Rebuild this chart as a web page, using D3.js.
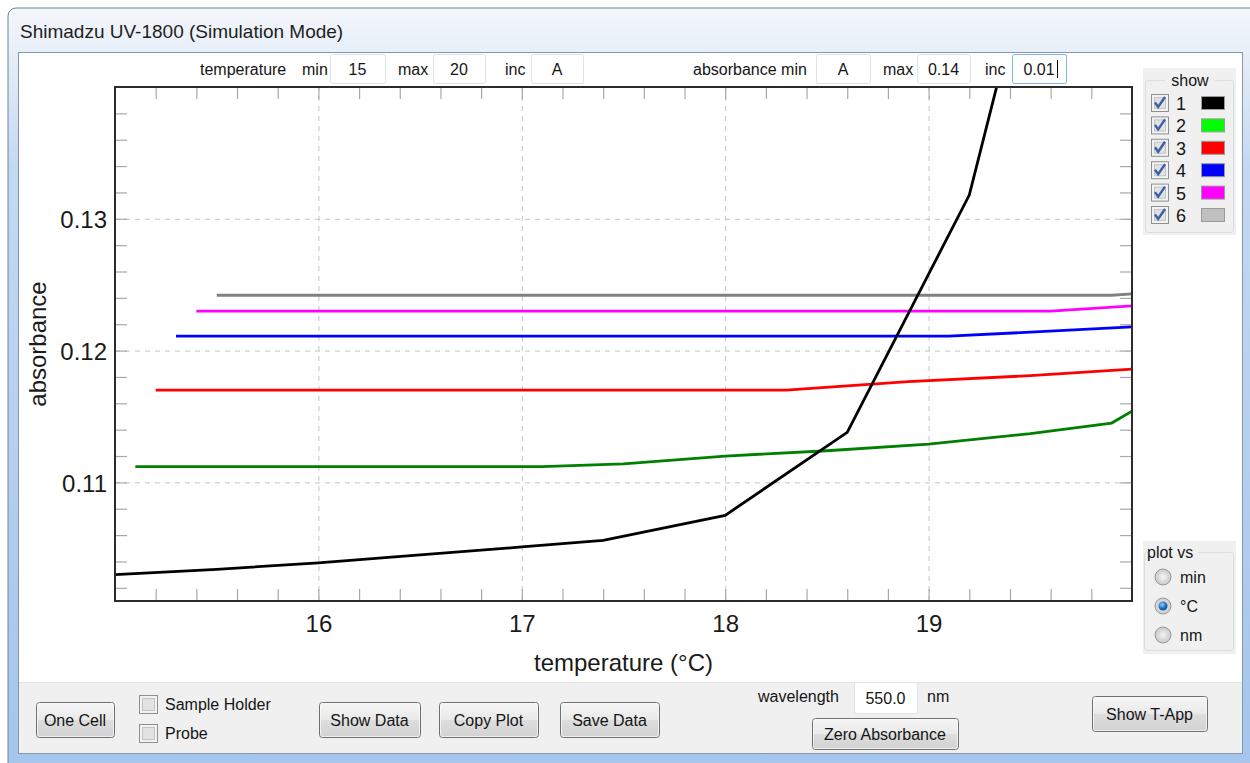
<!DOCTYPE html>
<html>
<head>
<meta charset="utf-8">
<script src="https://cdn.jsdelivr.net/npm/d3@7"></script>
<style>
    body { margin: 0; background: #fff; }
    svg text { font-family: "Liberation Sans", Arial, sans-serif; }
    .ui { font-size: 16px; fill: #151515; }
    .tick-label { font-size: 24px; fill: #1a1a1a; }
</style>
</head>
<body>
<svg id="graphic" width="1250" height="763"></svg>
<script>
// Series: [temperature (°C), absorbance]
const cell1 = [[15.0, 0.1030], [15.5, 0.1034], [16.0, 0.1039], [16.5, 0.1045], [17.0, 0.1051], [17.4, 0.1056], [18.0, 0.1075], [18.6, 0.1138], [19.2, 0.1318], [19.4, 0.1440]];
const cell2 = [[15.1, 0.1112], [17.1, 0.1112], [17.5, 0.1114], [18.0, 0.1120], [18.5, 0.1124], [19.0, 0.1129], [19.5, 0.1137], [19.9, 0.1145], [20.0, 0.1154]];
const cell3 = [[15.2, 0.1170], [18.3, 0.1170], [18.9, 0.11765], [19.5, 0.1181], [20.0, 0.1186]];
const cell4 = [[15.3, 0.1211], [19.1, 0.1211], [19.5, 0.1214], [20.0, 0.1218]];
const cell5 = [[15.4, 0.1230], [19.6, 0.1230], [20.0, 0.1234]];
const cell6 = [[15.5, 0.1242], [19.9, 0.1242], [20.0, 0.1243]];

const cellNames = ['1', '2', '3', '4', '5', '6'];
const lineColours = ['#000000', '#008000', '#ff0000', '#0000ff', '#ff00ff', '#808080'];
const swatchColours = ['#000000', '#00ff00', '#ff0000', '#0000ff', '#ff00ff', '#c0c0c0'];

const xTicks = [16, 17, 18, 19];
const yTicks = [0.11, 0.12, 0.13];
const xDomain = [15, 20];
const yDomain = [0.101, 0.14];

const svg = d3.select('#graphic');
const plot = { left: 115, right: 1132, top: 87, bottom: 601 };

// ---------- window chrome ----------
const defs = svg.append('defs');
const frameGrad = defs.append('linearGradient').attr('id', 'frame').attr('x1', 0).attr('y1', 0).attr('x2', 0).attr('y2', 1);
frameGrad.append('stop').attr('offset', '0%').attr('stop-color', '#f4f7fb');
frameGrad.append('stop').attr('offset', '6%').attr('stop-color', '#e6eef8');
frameGrad.append('stop').attr('offset', '20%').attr('stop-color', '#c4d9f1');
frameGrad.append('stop').attr('offset', '100%').attr('stop-color', '#a3c4ec');

const btnGrad = defs.append('linearGradient').attr('id', 'btn').attr('x1', 0).attr('y1', 0).attr('x2', 0).attr('y2', 1);
btnGrad.append('stop').attr('offset', '0%').attr('stop-color', '#f6f6f6');
btnGrad.append('stop').attr('offset', '50%').attr('stop-color', '#e9e9e9');
btnGrad.append('stop').attr('offset', '51%').attr('stop-color', '#dddddd');
btnGrad.append('stop').attr('offset', '100%').attr('stop-color', '#d2d2d2');

const radioGrad = defs.append('radialGradient').attr('id', 'radio');
radioGrad.append('stop').attr('offset', '0%').attr('stop-color', '#f4f4f4');
radioGrad.append('stop').attr('offset', '100%').attr('stop-color', '#c9c9c9');

const dotGrad = defs.append('radialGradient').attr('id', 'dot').attr('cx', '40%').attr('cy', '35%');
dotGrad.append('stop').attr('offset', '0%').attr('stop-color', '#8fd0ff');
dotGrad.append('stop').attr('offset', '100%').attr('stop-color', '#0b5fb0');

svg.append('rect').attr('x', 8).attr('y', 8).attr('width', 1260).attr('height', 780).attr('rx', 8)
    .attr('fill', 'url(#frame)').attr('stroke', '#6f839d');

svg.append('text').attr('x', 20).attr('y', 38).attr('font-size', 19).attr('fill', '#1e1e1e')
    .text('Shimadzu UV-1800 (Simulation Mode)');

// client area
svg.append('rect').attr('x', 18.5).attr('y', 52.5).attr('width', 1224).attr('height', 701)
    .attr('fill', '#f0f0f0').attr('stroke', '#8596ad');
svg.append('rect').attr('x', 19).attr('y', 53).attr('width', 1223).attr('height', 629).attr('fill', '#ffffff');
svg.append('line').attr('x1', 19).attr('x2', 1242).attr('y1', 682.5).attr('y2', 682.5).attr('stroke', '#e3e3e3');

// ---------- small UI helpers ----------
function label(x, y, txt, anchor) {
    svg.append('text').attr('class', 'ui').attr('x', x).attr('y', y)
        .attr('text-anchor', anchor || 'start').text(txt);
}
function inputBox(x0, x1, y0, y1, txt, focused) {
    svg.append('rect').attr('x', x0 + 0.5).attr('y', y0 + 0.5).attr('width', x1 - x0).attr('height', y1 - y0)
        .attr('rx', 2).attr('fill', '#fff').attr('stroke', focused ? '#7eb4ea' : '#dde3ea');
    label((x0 + x1) / 2, (y0 + y1) / 2 + 6, txt, 'middle');
}
function button(x0, x1, y0, y1, txt) {
    svg.append('rect').attr('x', x0 + 0.5).attr('y', y0 + 0.5).attr('width', x1 - x0).attr('height', y1 - y0)
        .attr('rx', 3).attr('fill', 'url(#btn)').attr('stroke', '#707070');
    svg.append('rect').attr('x', x0 + 1.5).attr('y', y0 + 1.5).attr('width', x1 - x0 - 2).attr('height', y1 - y0 - 2)
        .attr('rx', 2).attr('fill', 'none').attr('stroke', '#fcfcfc').attr('stroke-opacity', 0.7);
    label((x0 + x1) / 2, (y0 + y1) / 2 + 6, txt, 'middle');
}
function checkbox(x, y, size, checked) {
    svg.append('rect').attr('x', x + 0.5).attr('y', y + 0.5).attr('width', size).attr('height', size)
        .attr('fill', '#f2f2f2').attr('stroke', '#8e8f8f');
    svg.append('rect').attr('x', x + 3.5).attr('y', y + 3.5).attr('width', size - 6).attr('height', size - 6)
        .attr('fill', '#e2e2e2').attr('stroke', '#c4c4c4');
    if (checked) {
        svg.append('path')
            .attr('d', `M${x + 4},${y + size * 0.5} L${x + size * 0.42},${y + size - 4} L${x + size - 3},${y + 3}`)
            .attr('fill', 'none').attr('stroke', '#3a5fab').attr('stroke-width', 2.4);
    }
}
function radio(cx, cy, selected) {
    svg.append('circle').attr('cx', cx).attr('cy', cy).attr('r', 8)
        .attr('fill', 'url(#radio)').attr('stroke', '#9a9a9a');
    if (selected) {
        svg.append('circle').attr('cx', cx).attr('cy', cy).attr('r', 4.5).attr('fill', 'url(#dot)');
    }
}

// ---------- top controls ----------
label(200, 75, 'temperature');
label(302, 75, 'min');
inputBox(330, 385, 54, 83, '15');
label(398, 75, 'max');
inputBox(433, 485, 54, 83, '20');
label(505, 75, 'inc');
inputBox(531, 583, 54, 83, 'A');
label(693, 75, 'absorbance min');
inputBox(816, 870, 54, 83, 'A');
label(883, 75, 'max');
inputBox(917, 970, 54, 83, '0.14');
label(985, 75, 'inc');
inputBox(1012, 1066, 54, 83, '0.01', true);
svg.append('line').attr('x1', 1057.5).attr('x2', 1057.5).attr('y1', 60).attr('y2', 78).attr('stroke', '#000');

// ---------- plot ----------
const x = d3.scaleLinear().domain(xDomain).range([plot.left, plot.right]);
const y = d3.scaleLinear().domain(yDomain).range([plot.bottom, plot.top]);
const width = plot.right - plot.left;
const height = plot.bottom - plot.top;

const xMinor = d3.range(1, 25).map((i) => xDomain[0] + i * 0.2);
const yMinor = d3.range(1, 20).map((i) => 0.1 + i * 0.002).filter((v) => v > yDomain[0] && v < yDomain[1]);

// dashed grid
const grid = svg.append('g').attr('class', 'grid');
grid.append('g').attr('transform', `translate(0,${plot.bottom})`)
    .call(d3.axisBottom(x).tickValues(xTicks).tickSize(-height).tickFormat(''));
grid.append('g').attr('transform', `translate(${plot.left},0)`)
    .call(d3.axisLeft(y).tickValues(yTicks).tickSize(-width).tickFormat(''));
grid.selectAll('.domain').remove();
grid.selectAll('line').attr('stroke', '#c4c4c4').attr('stroke-dasharray', '5,5');

// minor ticks on all four sides, pointing inward
const tickLen = 12;
const minor = svg.append('g').attr('class', 'minor');
minor.append('g').attr('transform', `translate(0,${plot.bottom})`)
    .call(d3.axisBottom(x).tickValues(xMinor).tickSizeInner(-tickLen).tickSizeOuter(0).tickFormat(''));
minor.append('g').attr('transform', `translate(0,${plot.top})`)
    .call(d3.axisTop(x).tickValues(xMinor).tickSizeInner(-tickLen).tickSizeOuter(0).tickFormat(''));
minor.append('g').attr('transform', `translate(${plot.left},0)`)
    .call(d3.axisLeft(y).tickValues(yMinor).tickSizeInner(-tickLen).tickSizeOuter(0).tickFormat(''));
minor.append('g').attr('transform', `translate(${plot.right},0)`)
    .call(d3.axisRight(y).tickValues(yMinor).tickSizeInner(-tickLen).tickSizeOuter(0).tickFormat(''));
minor.selectAll('.domain').remove();
minor.selectAll('line').attr('stroke', '#a8a8a8').attr('stroke-width', 1.2);

// tick labels
const xAxis = svg.append('g').attr('transform', `translate(0,${plot.bottom})`)
    .call(d3.axisBottom(x).tickValues(xTicks).tickSize(0).tickPadding(31).tickFormat(d3.format('d')));
const yAxis = svg.append('g').attr('transform', `translate(${plot.left},0)`)
    .call(d3.axisLeft(y).tickValues(yTicks).tickSize(0).tickPadding(8).tickFormat(d3.format('.2f')));
[xAxis, yAxis].forEach((g) => {
    g.select('.domain').remove();
    g.selectAll('text').attr('class', 'tick-label').attr('font-family', null).attr('font-size', null).attr('fill', null);
});
xAxis.selectAll('text').attr('dy', 0);
yAxis.selectAll('text').attr('dy', '0.36em');

// lines
defs.append('clipPath').attr('id', 'plot-clip').append('rect')
    .attr('x', plot.left).attr('y', plot.top).attr('width', width).attr('height', height);

const line = d3.line().x((d) => x(d[0])).y((d) => y(d[1]));
const allCells = [cell1, cell2, cell3, cell4, cell5, cell6];
svg.append('g').attr('clip-path', 'url(#plot-clip)')
    .selectAll('path')
    .data(allCells.map((d, i) => ({ values: d, colour: lineColours[i] })).reverse())
    .join('path')
    .attr('d', (d) => line(d.values))
    .attr('fill', 'none')
    .attr('stroke', (d) => d.colour)
    .attr('stroke-width', 2.8);

// frame
svg.append('rect').attr('x', plot.left).attr('y', plot.top).attr('width', width).attr('height', height)
    .attr('fill', 'none').attr('stroke', '#2b2b2b').attr('stroke-width', 2);

// axis titles
svg.append('text').attr('class', 'tick-label').attr('x', (plot.left + plot.right) / 2).attr('y', 671)
    .attr('text-anchor', 'middle').text('temperature (°C)');
svg.append('text').attr('class', 'tick-label')
    .attr('transform', `translate(46,${(plot.top + plot.bottom) / 2}) rotate(-90)`)
    .attr('text-anchor', 'middle').text('absorbance');

// ---------- "show" legend ----------
svg.append('rect').attr('x', 1143).attr('y', 68).attr('width', 93).attr('height', 167).attr('fill', '#f0f0f0');
svg.append('rect').attr('x', 1145.5).attr('y', 80.5).attr('width', 88).attr('height', 152).attr('rx', 3)
    .attr('fill', 'none').attr('stroke', '#d5dfe5');
svg.append('rect').attr('x', 1165).attr('y', 74).attr('width', 50).attr('height', 12).attr('fill', '#f0f0f0');
label(1190, 86, 'show', 'middle');

const rowY = d3.scalePoint().domain(cellNames).range([103, 215]);
cellNames.forEach((name, i) => {
    const cy = rowY(name);
    checkbox(1151, cy - 9, 17, true);
    svg.append('text').attr('x', 1176).attr('y', cy + 7).attr('font-size', 18).attr('fill', '#151515').text(name);
    svg.append('rect').attr('x', 1201.5).attr('y', cy - 6.5).attr('width', 23).attr('height', 13)
        .attr('fill', swatchColours[i]).attr('stroke', '#9a9a9a');
});

// ---------- "plot vs" group ----------
svg.append('rect').attr('x', 1143).attr('y', 541).attr('width', 93).attr('height', 113).attr('fill', '#f0f0f0');
svg.append('rect').attr('x', 1144.5).attr('y', 552.5).attr('width', 89).attr('height', 98).attr('rx', 3)
    .attr('fill', 'none').attr('stroke', '#d5dfe5');
svg.append('rect').attr('x', 1148).attr('y', 545).attr('width', 50).attr('height', 12).attr('fill', '#f0f0f0');
label(1147, 558, 'plot vs');
[['min', 577, false], ['°C', 606, true], ['nm', 635, false]].forEach(([t, cy, sel]) => {
    radio(1163, cy, sel);
    label(1180, cy + 6, t);
});

// ---------- bottom bar ----------
button(36, 114, 702, 737, 'One Cell');
checkbox(139, 695, 18, false);
label(165, 710, 'Sample Holder');
checkbox(139, 724, 18, false);
label(165, 739, 'Probe');
button(319, 420, 702, 737, 'Show Data');
button(439, 538, 702, 737, 'Copy Plot');
button(560, 659, 702, 737, 'Save Data');
label(758, 702, 'wavelength');
inputBox(854, 917, 682, 713, '550.0');
label(927, 702, 'nm');
button(812, 958, 718, 749, 'Zero Absorbance');
button(1092, 1207, 696, 731, 'Show T-App');
</script>
</body>
</html>
